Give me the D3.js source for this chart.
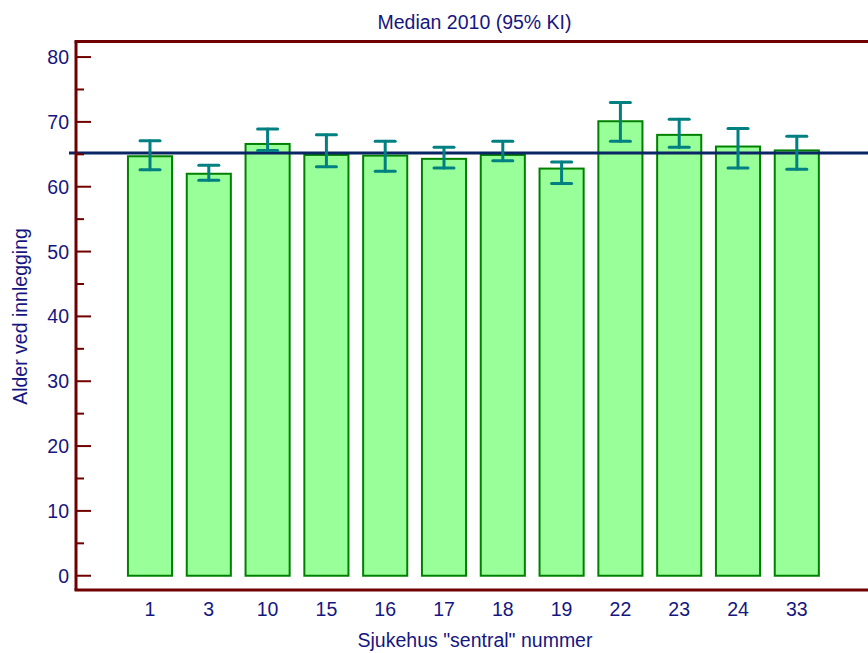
<!DOCTYPE html>
<html><head><meta charset="utf-8">
<script src="https://cdn.jsdelivr.net/npm/d3@7"></script>
<style>body{margin:0;background:#fff}</style>
</head><body>
<svg id="c" width="868" height="653"></svg>
<script>
const categories = ["1","3","10","15","16","17","18","19","22","23","24","33"];
const medians = [64.7, 62.0, 66.6, 64.9, 64.8, 64.3, 64.9, 62.8, 70.1, 68.0, 66.2, 65.6];
const ciLow  = [62.6, 61.0, 65.6, 63.1, 62.4, 62.9, 64.0, 60.5, 67.0, 66.1, 62.9, 62.7];
const ciHigh = [67.1, 63.3, 68.9, 68.0, 67.0, 66.1, 67.0, 63.8, 73.0, 70.4, 69.0, 67.8];
const overallMedian = 65.2;
const yTicks = [0,10,20,30,40,50,60,70,80];
const yMinorTicks = [5,15,25,35,45,55,65,75];
const title = "Median 2010 (95% KI)";
const xTitle = 'Sjukehus "sentral" nummer';
const yTitle = "Alder ved innlegging";

const svg = d3.select("#c");
const axisCol = "#700000", textCol = "#161680";
const font = "Liberation Sans, Arial, sans-serif";
const fs = 19.5;
const L = 76, T = 41.5, B = 590, R = 868;

const y = d3.scaleLinear().domain([-2.2, 82.4]).range([B, T]);
const x = d3.scaleBand().domain(categories).range([120.6, 826.2]).paddingInner(0.25).paddingOuter(0.125);

// bars
const bw = x.bandwidth();
svg.append("g").selectAll("rect").data(categories).join("rect")
  .attr("x", d => x(d)).attr("width", bw)
  .attr("y", (d,i) => y(medians[i])).attr("height", (d,i) => y(0) - y(medians[i]))
  .attr("fill", "#99ff99").attr("stroke", "#008000").attr("stroke-width", 2);

// mean line
svg.append("line").attr("x1", 69).attr("x2", R)
  .attr("y1", y(overallMedian)).attr("y2", y(overallMedian))
  .attr("stroke", "#0a2563").attr("stroke-width", 3);

// error bars
const eb = svg.append("g").attr("stroke", "#008080").attr("stroke-width", 3).attr("stroke-linecap","round");
categories.forEach((c,i) => {
  const cx = x(c) + bw/2;
  eb.append("line").attr("x1", cx).attr("x2", cx).attr("y1", y(ciLow[i])).attr("y2", y(ciHigh[i]));
  eb.append("line").attr("x1", cx-10).attr("x2", cx+10).attr("y1", y(ciLow[i])).attr("y2", y(ciLow[i]));
  eb.append("line").attr("x1", cx-10).attr("x2", cx+10).attr("y1", y(ciHigh[i])).attr("y2", y(ciHigh[i]));
});

// frame lines
svg.append("line").attr("x1", L).attr("x2", L).attr("y1", T).attr("y2", B).attr("stroke", axisCol).attr("stroke-width", 3);
svg.append("line").attr("x1", L-1.5).attr("x2", R).attr("y1", T).attr("y2", T).attr("stroke", axisCol).attr("stroke-width", 3);
svg.append("line").attr("x1", L-1.5).attr("x2", R).attr("y1", B).attr("y2", B).attr("stroke", axisCol).attr("stroke-width", 3);

// y ticks
svg.append("g").selectAll("line.maj").data(yTicks).join("line")
  .attr("x1", L).attr("x2", L+15).attr("y1", d => y(d)).attr("y2", d => y(d))
  .attr("stroke", axisCol).attr("stroke-width", 2);
svg.append("g").selectAll("line.min").data(yMinorTicks).join("line")
  .attr("x1", L).attr("x2", L+8).attr("y1", d => y(d)).attr("y2", d => y(d))
  .attr("stroke", axisCol).attr("stroke-width", 2);
svg.append("g").selectAll("text").data(yTicks).join("text")
  .attr("x", 69).attr("y", d => y(d)).attr("dy", "0.36em")
  .attr("text-anchor", "end").attr("font-family", font).attr("font-size", fs).attr("fill", textCol)
  .text(d => d);

// x labels
svg.append("g").selectAll("text").data(categories).join("text")
  .attr("x", d => x(d) + bw/2).attr("y", 616)
  .attr("text-anchor", "middle").attr("font-family", font).attr("font-size", fs).attr("fill", textCol)
  .text(d => d);

svg.append("text").attr("x", 474.5).attr("y", 29).attr("text-anchor","middle")
  .attr("font-family", font).attr("font-size", fs).attr("fill", textCol).text(title);
svg.append("text").attr("x", 475).attr("y", 647).attr("text-anchor","middle")
  .attr("font-family", font).attr("font-size", fs).attr("fill", textCol).text(xTitle);
svg.append("text").attr("transform", "translate(27,316.5) rotate(-90)").attr("text-anchor","middle")
  .attr("font-family", font).attr("font-size", fs).attr("fill", textCol).text(yTitle);
</script>
</body></html>
